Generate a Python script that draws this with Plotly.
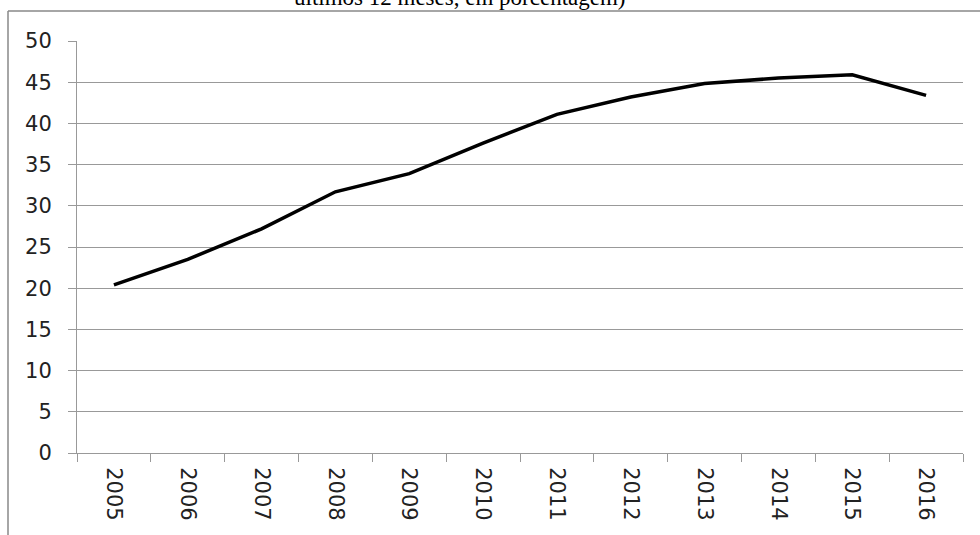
import plotly.graph_objects as go

anos = ["2005", "2006", "2007", "2008", "2009", "2010", "2011", "2012", "2013", "2014", "2015", "2016"]
valores = [20.4, 23.5, 27.2, 31.7, 33.9, 37.6, 41.1, 43.2, 44.85, 45.5, 45.9, 43.4]
y_ticks = [0, 5, 10, 15, 20, 25, 30, 35, 40, 45, 50]
titulo = "últimos 12 meses, em porcentagem)"

W, H = 980, 535
L, R, T, B = 77, 17, 41, 82
pw, ph = W - L - R, H - T - B

def px_x(p):
    return (p - L) / pw

def px_y(p):
    return (H - B - p) / ph

fig = go.Figure()
fig.add_trace(go.Scatter(
    x=anos, y=valores, mode="lines",
    line=dict(color="black", width=3.5),
    showlegend=False, hoverinfo="skip",
))

tf = dict(family="DejaVu Sans", size=21, color="#222")

fig.update_layout(
    width=W, height=H,
    margin=dict(l=L, r=R, t=T, b=B),
    paper_bgcolor="white", plot_bgcolor="white",
    font=tf,
    xaxis=dict(
        type="category", tickson="boundaries", ticks="outside", ticklen=8,
        tickcolor="#999", tickwidth=1, showgrid=False, showline=True,
        linecolor="#999", linewidth=1, tickangle=90, zeroline=False,
        tickfont=tf, range=[-0.5, 11.5], ticklabelstandoff=9,
    ),
    yaxis=dict(
        range=[0, 50], tickvals=y_ticks, ticks="outside", ticklen=8,
        tickcolor="#999", tickwidth=1, showgrid=True, gridcolor="#999",
        gridwidth=1, showline=True, linecolor="#999", linewidth=1,
        zeroline=False, ticklabelstandoff=12, tickfont=tf,
    ),
    shapes=[
        dict(type="line", xref="paper", yref="paper",
             x0=px_x(8), x1=px_x(W + 5), y0=px_y(11), y1=px_y(11),
             line=dict(color="#888", width=1.5)),
        dict(type="line", xref="paper", yref="paper",
             x0=px_x(8), x1=px_x(8), y0=px_y(11), y1=px_y(H + 5),
             line=dict(color="#888", width=1.5)),
    ],
    annotations=[
        dict(text=titulo, xref="paper", yref="paper",
             x=px_x(460), y=px_y(7), xanchor="center", yanchor="bottom",
             yshift=-5, showarrow=False,
             font=dict(family="Liberation Serif", size=23, color="black")),
    ],
)

fig.write_html(
    "out.html",
    config={"displayModeBar": False},
    post_script="document.body.style.margin='0px';document.body.style.overflow='hidden';",
)
